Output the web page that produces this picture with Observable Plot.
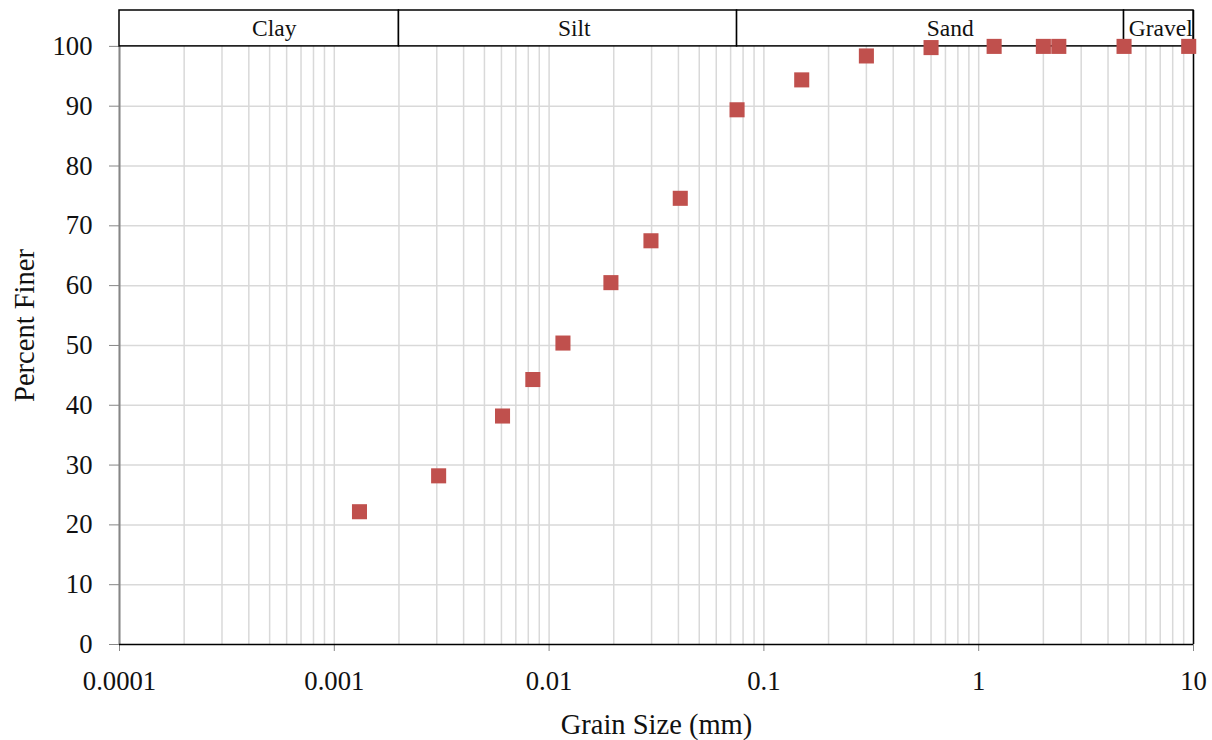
<!DOCTYPE html>
<html>
<head>
<meta charset="utf-8">
<script src="https://cdn.jsdelivr.net/npm/d3@7"></script>
<script src="https://cdn.jsdelivr.net/npm/@observablehq/plot@0.6"></script>
<style>
  html, body { margin: 0; padding: 0; background: #fff; }
  #chart svg { display: block; }
</style>
</head>
<body>
<div id="chart"></div>
<script>
// ---- data ----
const grainSize = [0.00131, 0.00306, 0.00607, 0.0084, 0.0116, 0.0194, 0.0298, 0.0408, 0.075, 0.15, 0.3, 0.6, 1.18, 2.0, 2.36, 4.75, 9.5];
const percentFiner = [22.2, 28.2, 38.2, 44.3, 50.4, 60.5, 67.5, 74.6, 89.4, 94.4, 98.4, 99.8, 100, 100, 100, 100, 100];

const bandNames = ["Clay", "Silt", "Sand", "Gravel"];
const bandStart = [0.0001, 0.002, 0.075, 4.75];
const bandEnd = [0.002, 0.075, 4.75, 10];
const bandLabelX = [0.000525, 0.0131, 0.737, 7.04];
const bandBottom = 100;
const bandTop = 106;

const xTicks = [0.0001, 0.001, 0.01, 0.1, 1, 10];
const xTickLabels = ["0.0001", "0.001", "0.01", "0.1", "1", "10"];
const yTicks = [0, 10, 20, 30, 40, 50, 60, 70, 80, 90, 100];
const minorMultipliers = [1, 2, 3, 4, 5, 6, 7, 8, 9];

// ---- derived tables ----
const points = grainSize.map((g, i) => ({g, p: percentFiner[i]}));
const bands = bandNames.map((name, i) => ({name, x1: bandStart[i], x2: bandEnd[i], lx: bandLabelX[i]}));
const gridX = [];
xTicks.slice(0, -1).forEach(d => minorMultipliers.forEach(m => gridX.push(d * m)));
gridX.push(xTicks[xTicks.length - 1]);
const gridY = yTicks.slice(1, -1);

const font = "'Liberation Serif', 'Times New Roman', serif";
const gridColor = "#d9d9d9";
const axisGray = "#868686";
const ink = "#111";

const chart = Plot.plot({
  width: 1212,
  height: 740,
  marginLeft: 119,
  marginRight: 19,
  marginTop: 10,
  marginBottom: 96,
  style: {fontFamily: font, color: ink, background: "#fff"},
  x: {type: "log", domain: [xTicks[0], xTicks[xTicks.length - 1]]},
  y: {domain: [0, bandTop]},
  marks: [
    // grid
    Plot.ruleX(gridX, {y1: 0, y2: bandBottom, stroke: gridColor, strokeWidth: 1.5}),
    Plot.ruleY(gridY, {x1: xTicks[0], x2: xTicks[xTicks.length - 1], stroke: gridColor, strokeWidth: 1.5}),
    // axes
    Plot.axisY({ticks: yTicks, tickSize: 10, tickPadding: 17, stroke: axisGray, fill: ink, fontSize: 26.7, label: null}),
    Plot.axisX({ticks: xTicks, tickSize: 7, tickPadding: 20, stroke: axisGray, fill: ink, fontSize: 26.7, label: null,
      tickFormat: d => xTickLabels[xTicks.indexOf(d)]}),
    Plot.ruleX([xTicks[0]], {y1: 0, y2: bandBottom, stroke: axisGray, strokeWidth: 2}),
    Plot.ruleY([0], {x1: xTicks[0], x2: xTicks[xTicks.length - 1], stroke: "#000", strokeWidth: 1.5}),
    Plot.ruleX([xTicks[xTicks.length - 1]], {y1: 0, y2: bandTop, stroke: "#000", strokeWidth: 1.5}),
    // classification band
    Plot.rect(bands, {x1: "x1", x2: "x2", y1: bandBottom, y2: bandTop, fill: "#fff", stroke: "#000", strokeWidth: 1.5}),
    Plot.text(bands, {x: "lx", y: (bandBottom + bandTop) / 2, text: "name", fontSize: 23.5, fill: ink}),
    // data
    Plot.dot(points, {x: "g", y: "p", symbol: "square", r: 8.5, fill: "#c0504d", stroke: "none"}),
    // axis titles
    Plot.text(["Grain Size (mm)"], {frameAnchor: "bottom", lineAnchor: "middle", textAnchor: "middle", dy: 80.5, fontSize: 28.5, fill: ink}),
    Plot.text(["Percent Finer"], {frameAnchor: "left", lineAnchor: "middle", textAnchor: "middle", dx: -95, dy: -2, rotate: -90, fontSize: 28.5, fill: ink})
  ]
});
document.getElementById("chart").append(chart);
</script>
</body>
</html>
